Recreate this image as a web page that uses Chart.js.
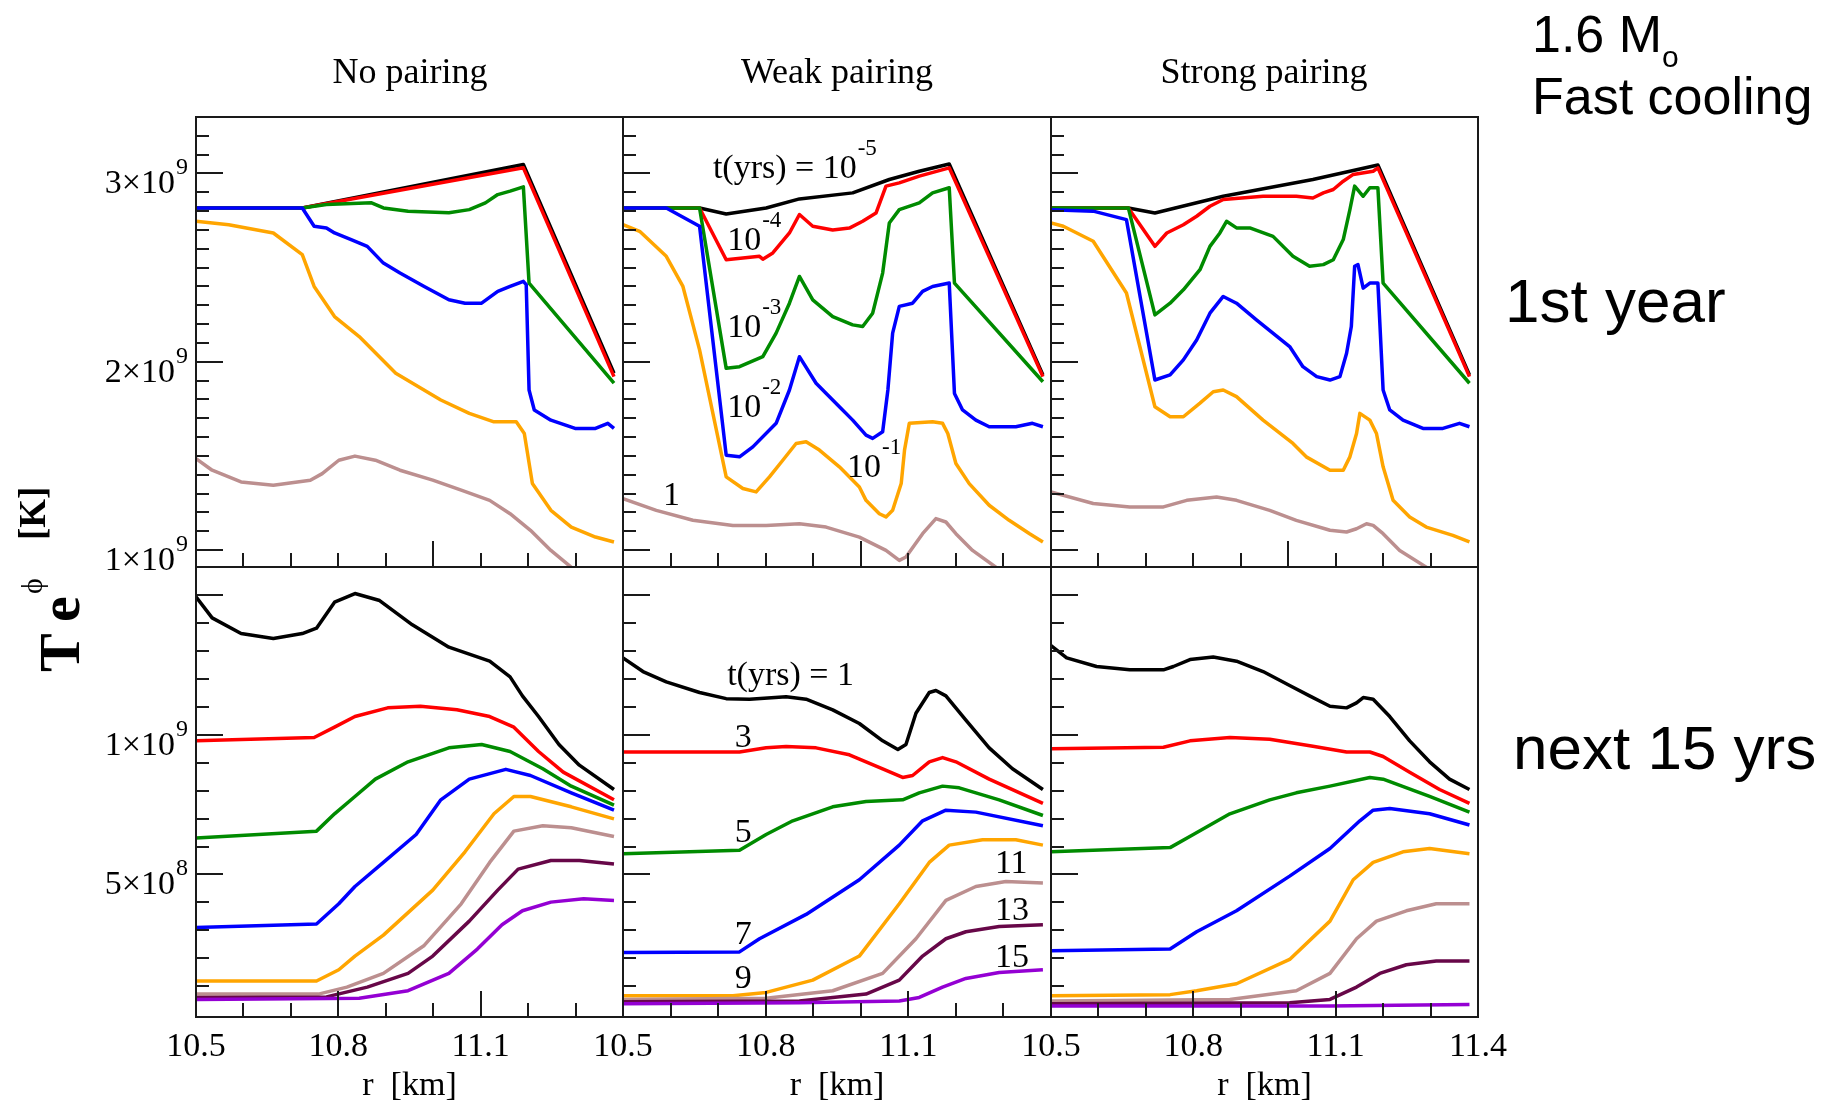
<!DOCTYPE html>
<html>
<head>
<meta charset="utf-8">
<title>Crust temperature profiles, 1.6 Msun fast cooling</title>
<script src="https://cdn.jsdelivr.net/npm/chart.js@4.4.1/dist/chart.umd.min.js"></script>
<style>
  html, body { margin: 0; padding: 0; background: #fff; }
  #page { position: relative; width: 1841px; height: 1103px; overflow: hidden; background: #fff; }
  #page canvas { position: absolute; left: 0; top: 0; }
  .serif { position: absolute; font-family: "Liberation Serif", "Times New Roman", serif; line-height: 1; white-space: nowrap; color: #000; }
  .sans { position: absolute; font-family: "Liberation Sans", Arial, sans-serif; line-height: 1; white-space: nowrap; color: #000; }
  .title { width: 400px; text-align: center; font-size: 36px; top: 53px; }
</style>
</head>
<body>
<div id="page">
  <div class="serif title" style="left:210px">No pairing</div>
  <div class="serif title" style="left:637px">Weak pairing</div>
  <div class="serif title" style="left:1064px">Strong pairing</div>

  <div class="sans" style="left:1532px; top:8px; font-size:52px">1.6 M<span style="font-size:30px; position:relative; top:15px">o</span></div>
  <div class="sans" style="left:1532px; top:70px; font-size:52px">Fast cooling</div>
  <div class="sans" style="left:1505px; top:270px; font-size:62px">1st year</div>
  <div class="sans" style="left:1513px; top:717px; font-size:62px">next 15 yrs</div>

  <div id="ytitle" style="position:absolute; left:80px; top:672px; width:0; height:0; transform:rotate(-90deg); transform-origin:0 0;">
    <span class="serif" style="left:0; top:-49px; font-size:58px; font-weight:bold">T</span>
    <span class="serif" style="left:50px; top:-49px; font-size:58px; font-weight:bold">e</span>
    <span class="serif" style="left:78px; top:-63px; font-size:30px">ϕ</span>
    <span class="serif" style="left:132px; top:-66px; font-size:37px; font-weight:bold">[K]</span>
  </div>
</div>

<script>
// Profiles T e^phi across the crust. Each curve keeps its own [r (km), T (10^9 K)] pairs.

// ---------- first year, t = 1e-5, 1e-4, 1e-3, 1e-2, 1e-1, 1 yr ----------
const noPairYr_t1e5 = [[10.5, 2.817], [10.724, 2.817], [11.19, 3.048], [11.381, 1.939]];
const noPairYr_t1e4 = [[10.5, 2.817], [10.724, 2.817], [11.19, 3.03], [11.381, 1.921]];
const noPairYr_t1e3 = [[10.5, 2.817], [10.724, 2.817], [10.775, 2.835], [10.87, 2.844], [10.895, 2.817], [10.947, 2.8],
  [11.033, 2.791], [11.076, 2.808], [11.11, 2.844], [11.136, 2.888], [11.162, 2.906], [11.19, 2.929], [11.202, 2.418], [11.381, 1.886]];
const noPairYr_t1e2 = [[10.5, 2.817], [10.724, 2.817], [10.749, 2.72], [10.775, 2.711], [10.792, 2.684], [10.827, 2.649],
  [10.861, 2.613], [10.895, 2.524], [10.93, 2.471], [10.981, 2.40], [11.033, 2.329], [11.067, 2.311], [11.102, 2.311],
  [11.136, 2.374], [11.162, 2.40], [11.19, 2.427], [11.196, 2.41], [11.202, 1.85], [11.213, 1.744], [11.248, 1.69],
  [11.299, 1.646], [11.342, 1.646], [11.368, 1.673], [11.381, 1.646]];
const noPairYr_t1e1 = [[10.5, 2.746], [10.569, 2.728], [10.663, 2.684], [10.724, 2.569], [10.749, 2.40], [10.792, 2.24],
  [10.844, 2.134], [10.921, 1.939], [11.016, 1.797], [11.076, 1.726], [11.128, 1.681], [11.175, 1.681], [11.192, 1.619],
  [11.209, 1.353], [11.248, 1.211], [11.291, 1.122], [11.342, 1.069], [11.381, 1.043]];
const noPairYr_t1 = [[10.5, 1.486], [10.534, 1.424], [10.595, 1.362], [10.663, 1.344], [10.741, 1.371], [10.766, 1.406],
  [10.801, 1.477], [10.835, 1.499], [10.878, 1.477], [10.93, 1.424], [10.999, 1.371], [11.059, 1.318], [11.119, 1.264],
  [11.162, 1.193], [11.205, 1.105], [11.248, 0.998], [11.299, 0.892], [11.33, 0.83]];

const weakYr_t1e5 = [[10.5, 2.817], [10.661, 2.817], [10.717, 2.785], [10.801, 2.817], [10.871, 2.865], [10.983, 2.897],
  [11.06, 2.968], [11.123, 3.012], [11.186, 3.05], [11.383, 1.93]];
const weakYr_t1e4 = [[10.5, 2.817], [10.661, 2.817], [10.717, 2.542], [10.787, 2.56], [10.794, 2.545], [10.815, 2.578],
  [10.85, 2.684], [10.871, 2.782], [10.899, 2.72], [10.941, 2.70], [10.976, 2.71], [11.004, 2.746], [11.032, 2.79],
  [11.053, 2.933], [11.081, 2.95], [11.123, 2.986], [11.186, 3.03], [11.383, 1.921]];
const weakYr_t1e3 = [[10.5, 2.817], [10.661, 2.817], [10.717, 1.965], [10.745, 1.974], [10.794, 2.027], [10.822, 2.152],
  [10.85, 2.311], [10.871, 2.453], [10.899, 2.329], [10.941, 2.24], [10.983, 2.196], [11.004, 2.187], [11.025, 2.258],
  [11.046, 2.471], [11.06, 2.737], [11.081, 2.808], [11.123, 2.844], [11.151, 2.897], [11.186, 2.924], [11.197, 2.418],
  [11.383, 1.894]];
const weakYr_t1e2 = [[10.5, 2.817], [10.591, 2.817], [10.661, 2.72], [10.717, 1.504], [10.745, 1.495], [10.773, 1.548],
  [10.822, 1.673], [10.85, 1.85], [10.871, 2.027], [10.906, 1.886], [10.955, 1.761], [10.983, 1.69], [11.011, 1.61],
  [11.025, 1.593], [11.046, 1.628], [11.057, 1.85], [11.067, 2.152], [11.081, 2.294], [11.109, 2.311], [11.13, 2.374],
  [11.151, 2.40], [11.186, 2.418], [11.197, 1.832], [11.214, 1.744], [11.242, 1.69], [11.27, 1.655], [11.326, 1.655],
  [11.361, 1.673], [11.383, 1.655]];
const weakYr_t1e1 = [[10.5, 2.728], [10.535, 2.693], [10.591, 2.56], [10.626, 2.40], [10.661, 2.063], [10.717, 1.389],
  [10.752, 1.327], [10.78, 1.309], [10.808, 1.389], [10.836, 1.477], [10.864, 1.566], [10.885, 1.575], [10.913, 1.531],
  [10.955, 1.442], [10.997, 1.335], [11.011, 1.264], [11.039, 1.193], [11.053, 1.176], [11.067, 1.211], [11.085, 1.353],
  [11.092, 1.531], [11.102, 1.673], [11.151, 1.681], [11.172, 1.673], [11.183, 1.619], [11.2, 1.46], [11.228, 1.353],
  [11.27, 1.238], [11.312, 1.158], [11.355, 1.087], [11.383, 1.043]];
const weakYr_t1 = [[10.5, 1.273], [10.57, 1.211], [10.647, 1.158], [10.731, 1.131], [10.801, 1.131], [10.871, 1.14],
  [10.927, 1.122], [10.997, 1.069], [11.053, 0.998], [11.081, 0.945], [11.095, 0.963], [11.13, 1.087], [11.158, 1.167],
  [11.179, 1.149], [11.2, 1.087], [11.235, 0.998], [11.284, 0.909], [11.312, 0.838]];

const strongYr_t1e5 = [[10.5, 2.817], [10.663, 2.817], [10.719, 2.79], [10.863, 2.879], [11.052, 2.968], [11.189, 3.045],
  [11.382, 1.93]];
const strongYr_t1e4 = [[10.5, 2.817], [10.663, 2.817], [10.719, 2.613], [10.744, 2.684], [10.779, 2.728], [10.807, 2.773],
  [10.835, 2.826], [10.863, 2.862], [10.947, 2.879], [11.017, 2.879], [11.052, 2.87], [11.074, 2.897], [11.095, 2.915],
  [11.116, 2.959], [11.137, 2.995], [11.179, 3.012], [11.189, 3.03], [11.382, 1.921]];
const strongYr_t1e3 = [[10.5, 2.817], [10.663, 2.817], [10.719, 2.249], [10.751, 2.311], [10.779, 2.382], [10.814, 2.489],
  [10.835, 2.613], [10.856, 2.684], [10.87, 2.746], [10.891, 2.711], [10.919, 2.711], [10.968, 2.666], [11.01, 2.56],
  [11.045, 2.507], [11.074, 2.516], [11.095, 2.542], [11.116, 2.649], [11.13, 2.808], [11.14, 2.933], [11.158, 2.879],
  [11.172, 2.924], [11.189, 2.924], [11.2, 2.418], [11.382, 1.886]];
const strongYr_t1e2 = [[10.5, 2.808], [10.589, 2.8], [10.659, 2.755], [10.719, 1.903], [10.751, 1.93], [10.779, 2.01],
  [10.807, 2.116], [10.835, 2.258], [10.863, 2.347], [10.891, 2.311], [10.933, 2.223], [11.003, 2.081], [11.031, 1.974],
  [11.06, 1.921], [11.088, 1.903], [11.109, 1.921], [11.123, 2.045], [11.133, 2.187], [11.14, 2.507], [11.147, 2.516],
  [11.158, 2.391], [11.172, 2.418], [11.189, 2.418], [11.2, 1.85], [11.214, 1.744], [11.242, 1.69], [11.284, 1.646],
  [11.326, 1.646], [11.361, 1.673], [11.382, 1.655]];
const strongYr_t1e1 = [[10.5, 2.737], [10.526, 2.72], [10.589, 2.64], [10.659, 2.365], [10.719, 1.761], [10.751, 1.708],
  [10.779, 1.708], [10.814, 1.78], [10.842, 1.841], [10.863, 1.85], [10.891, 1.815], [10.947, 1.69], [11.01, 1.566],
  [11.038, 1.495], [11.088, 1.424], [11.116, 1.424], [11.13, 1.495], [11.144, 1.619], [11.151, 1.726], [11.172, 1.69],
  [11.186, 1.619], [11.2, 1.442], [11.221, 1.264], [11.256, 1.176], [11.291, 1.122], [11.347, 1.078], [11.382, 1.043]];
const strongYr_t1 = [[10.5, 1.309], [10.589, 1.247], [10.666, 1.229], [10.737, 1.229], [10.786, 1.264], [10.849, 1.282],
  [10.891, 1.264], [10.961, 1.211], [11.017, 1.158], [11.088, 1.105], [11.123, 1.096], [11.144, 1.113], [11.165, 1.14],
  [11.179, 1.131], [11.2, 1.087], [11.235, 0.998], [11.291, 0.909], [11.32, 0.86]];

// ---------- next 15 years, t = 1, 3, 5, 7, 9, 11, 13, 15 yr ----------
const noPairLate_y1 = [[10.5, 1.493], [10.534, 1.418], [10.595, 1.362], [10.663, 1.344], [10.724, 1.362], [10.754, 1.381],
  [10.792, 1.474], [10.835, 1.505], [10.887, 1.48], [10.956, 1.393], [11.033, 1.313], [11.119, 1.263], [11.162, 1.207],
  [11.188, 1.139], [11.222, 1.065], [11.265, 0.965], [11.308, 0.891], [11.381, 0.804]];
const noPairLate_y3 = [[10.5, 0.978], [10.749, 0.99], [10.792, 1.027], [10.835, 1.065], [10.904, 1.096], [10.973, 1.102],
  [11.05, 1.089], [11.119, 1.065], [11.17, 1.027], [11.222, 0.94], [11.274, 0.866], [11.381, 0.767]];
const noPairLate_y5 = [[10.5, 0.63], [10.754, 0.655], [10.792, 0.717], [10.835, 0.779], [10.878, 0.841], [10.947, 0.903],
  [11.033, 0.953], [11.102, 0.965], [11.162, 0.94], [11.231, 0.878], [11.291, 0.816], [11.381, 0.748]];
const noPairLate_y7 = [[10.5, 0.31], [10.754, 0.323], [10.801, 0.395], [10.835, 0.457], [10.895, 0.543], [10.964, 0.643],
  [11.016, 0.767], [11.076, 0.841], [11.153, 0.876], [11.205, 0.854], [11.291, 0.792], [11.381, 0.73]];
const noPairLate_y9 = [[10.5, 0.119], [10.754, 0.119], [10.801, 0.159], [10.835, 0.208], [10.895, 0.283], [10.999, 0.444],
  [11.067, 0.581], [11.128, 0.717], [11.17, 0.779], [11.205, 0.779], [11.291, 0.742], [11.381, 0.699]];
const noPairLate_y11 = [[10.5, 0.072], [10.758, 0.072], [10.818, 0.097], [10.895, 0.146], [10.981, 0.246], [11.059, 0.395],
  [11.119, 0.543], [11.17, 0.655], [11.231, 0.674], [11.291, 0.667], [11.381, 0.636]];
const noPairLate_y13 = [[10.5, 0.06], [10.775, 0.062], [10.861, 0.097], [10.947, 0.146], [10.999, 0.208], [11.076, 0.333],
  [11.136, 0.444], [11.179, 0.519], [11.248, 0.55], [11.308, 0.55], [11.381, 0.537]];
const noPairLate_y15 = [[10.5, 0.053], [10.844, 0.057], [10.947, 0.084], [11.033, 0.146], [11.093, 0.233], [11.145, 0.32],
  [11.188, 0.37], [11.248, 0.401], [11.317, 0.413], [11.381, 0.407]];

const weakLate_y1 = [[10.5, 1.275], [10.542, 1.226], [10.591, 1.189], [10.661, 1.151], [10.717, 1.129], [10.766, 1.127],
  [10.843, 1.136], [10.885, 1.127], [10.941, 1.089], [10.997, 1.04], [11.046, 0.978], [11.078, 0.947], [11.095, 0.965],
  [11.116, 1.077], [11.144, 1.151], [11.158, 1.158], [11.179, 1.139], [11.221, 1.052], [11.27, 0.953], [11.319, 0.878],
  [11.383, 0.804]];
const weakLate_y3 = [[10.5, 0.938], [10.745, 0.938], [10.801, 0.953], [10.843, 0.958], [10.906, 0.953], [10.976, 0.928],
  [11.046, 0.878], [11.088, 0.847], [11.109, 0.854], [11.144, 0.903], [11.172, 0.918], [11.2, 0.903], [11.27, 0.841],
  [11.383, 0.754]];
const weakLate_y5 = [[10.5, 0.574], [10.745, 0.587], [10.801, 0.643], [10.857, 0.692], [10.941, 0.742], [11.011, 0.761],
  [11.088, 0.767], [11.123, 0.792], [11.172, 0.816], [11.207, 0.81], [11.291, 0.767], [11.383, 0.711]];
const weakLate_y7 = [[10.5, 0.221], [10.745, 0.223], [10.787, 0.27], [10.885, 0.357], [10.997, 0.481], [11.081, 0.605],
  [11.13, 0.692], [11.179, 0.73], [11.242, 0.723], [11.383, 0.674]];
const weakLate_y9 = [[10.5, 0.066], [10.731, 0.066], [10.801, 0.078], [10.899, 0.122], [10.997, 0.208], [11.081, 0.395],
  [11.144, 0.543], [11.186, 0.605], [11.256, 0.624], [11.326, 0.624], [11.383, 0.605]];
const weakLate_y11 = [[10.5, 0.053], [10.801, 0.057], [10.941, 0.084], [11.046, 0.146], [11.116, 0.27], [11.179, 0.407],
  [11.242, 0.457], [11.305, 0.475], [11.383, 0.469]];
const weakLate_y13 = [[10.5, 0.045], [10.871, 0.047], [11.011, 0.072], [11.081, 0.122], [11.13, 0.208], [11.179, 0.27],
  [11.221, 0.295], [11.291, 0.314], [11.383, 0.32]];
const weakLate_y15 = [[10.5, 0.037], [10.871, 0.041], [11.081, 0.047], [11.123, 0.06], [11.172, 0.097], [11.221, 0.128],
  [11.291, 0.149], [11.383, 0.159]];

const strongLate_y1 = [[10.5, 1.319], [10.533, 1.275], [10.596, 1.244], [10.666, 1.232], [10.737, 1.232], [10.758, 1.244],
  [10.793, 1.269], [10.842, 1.278], [10.891, 1.263], [10.947, 1.226], [11.003, 1.176], [11.045, 1.139], [11.088, 1.102],
  [11.123, 1.096], [11.144, 1.114], [11.158, 1.133], [11.179, 1.127], [11.214, 1.065], [11.256, 0.978], [11.298, 0.903],
  [11.34, 0.841], [11.382, 0.804]];
const strongLate_y3 = [[10.5, 0.95], [10.737, 0.955], [10.793, 0.978], [10.877, 0.99], [10.961, 0.984], [11.052, 0.959],
  [11.123, 0.938], [11.172, 0.938], [11.2, 0.922], [11.256, 0.866], [11.319, 0.804], [11.382, 0.754]];
const strongLate_y5 = [[10.5, 0.581], [10.751, 0.596], [10.8, 0.643], [10.877, 0.717], [10.961, 0.767], [11.017, 0.792],
  [11.088, 0.816], [11.172, 0.847], [11.2, 0.841], [11.298, 0.779], [11.382, 0.723]];
const strongLate_y7 = [[10.5, 0.227], [10.751, 0.233], [10.807, 0.295], [10.891, 0.37], [11.003, 0.494], [11.088, 0.593],
  [11.151, 0.692], [11.179, 0.73], [11.214, 0.736], [11.298, 0.717], [11.382, 0.677]];
const strongLate_y9 = [[10.5, 0.066], [10.751, 0.07], [10.807, 0.084], [10.891, 0.109], [11.003, 0.196], [11.088, 0.333],
  [11.137, 0.481], [11.179, 0.543], [11.242, 0.581], [11.298, 0.593], [11.382, 0.574]];
const strongLate_y11 = [[10.5, 0.047], [10.877, 0.053], [11.017, 0.084], [11.088, 0.146], [11.144, 0.27], [11.186, 0.333],
  [11.249, 0.37], [11.312, 0.395], [11.382, 0.395]];
const strongLate_y13 = [[10.5, 0.037], [11.003, 0.041], [11.088, 0.053], [11.144, 0.097], [11.193, 0.146], [11.249, 0.177],
  [11.312, 0.19], [11.382, 0.19]];
const strongLate_y15 = [[10.5, 0.029], [11.088, 0.029], [11.228, 0.032], [11.382, 0.035]];

// axis ranges and tick labels (T in units of 1e9 K)
const rRange = [10.5, 11.4];
const rTickLabels = [10.5, 10.8, 11.1, 11.4];
const yearRange = [0.91, 3.3];
const yearTickLabels = [1, 2, 3];
const lateRange = [-0.01, 1.6];
const lateTickLabels = [0.5, 1];

// curve colours, oldest profile last
const yearColors = ['#000000', '#ff0000', '#008b00', '#0000ff', '#ffa500', '#bc8f8f'];
const lateColors = ['#000000', '#ff0000', '#008b00', '#0000ff', '#ffa500', '#bc8f8f', '#670748', '#9400d3'];

// in-panel time labels: [text, exponent, r, T at baseline]
const weakYearNotes = [
  ['t(yrs) = 10', '-5', 10.689, 2.976],
  ['10', '-4', 10.719, 2.594],
  ['10', '-3', 10.719, 2.132],
  ['10', '-2', 10.719, 1.707],
  ['10', '-1', 10.971, 1.388],
  ['1', '', 10.584, 1.239]
];
const weakLateNotes = [
  ['t(yrs) = 1', '', 10.719, 1.178],
  ['3', '', 10.735, 0.956],
  ['5', '', 10.735, 0.616],
  ['7', '', 10.735, 0.251],
  ['9', '', 10.735, 0.094],
  ['11', '', 11.282, 0.505],
  ['13', '', 11.282, 0.337],
  ['15', '', 11.282, 0.169]
];

const W = 1841, H = 1103;
const colEdges = [196, 623, 1051, 1478];
const rowEdges = [117, 567, 1017];
const SERIF = '"Liberation Serif", "Times New Roman", serif';
const INK = '#1a1a1a';

const panels = [
  { row: 0, col: 0, range: yearRange, labels: yearTickLabels, colors: yearColors, notes: [],
    series: [noPairYr_t1e5, noPairYr_t1e4, noPairYr_t1e3, noPairYr_t1e2, noPairYr_t1e1, noPairYr_t1] },
  { row: 0, col: 1, range: yearRange, labels: yearTickLabels, colors: yearColors, notes: weakYearNotes,
    series: [weakYr_t1e5, weakYr_t1e4, weakYr_t1e3, weakYr_t1e2, weakYr_t1e1, weakYr_t1] },
  { row: 0, col: 2, range: yearRange, labels: yearTickLabels, colors: yearColors, notes: [],
    series: [strongYr_t1e5, strongYr_t1e4, strongYr_t1e3, strongYr_t1e2, strongYr_t1e1, strongYr_t1] },
  { row: 1, col: 0, range: lateRange, labels: lateTickLabels, colors: lateColors, notes: [],
    series: [noPairLate_y1, noPairLate_y3, noPairLate_y5, noPairLate_y7, noPairLate_y9, noPairLate_y11, noPairLate_y13, noPairLate_y15] },
  { row: 1, col: 1, range: lateRange, labels: lateTickLabels, colors: lateColors, notes: weakLateNotes,
    series: [weakLate_y1, weakLate_y3, weakLate_y5, weakLate_y7, weakLate_y9, weakLate_y11, weakLate_y13, weakLate_y15] },
  { row: 1, col: 2, range: lateRange, labels: lateTickLabels, colors: lateColors, notes: [],
    series: [strongLate_y1, strongLate_y3, strongLate_y5, strongLate_y7, strongLate_y9, strongLate_y11, strongLate_y13, strongLate_y15] }
];

// text with an optional raised exponent, left aligned at (x, y)
function drawRaised(ctx, text, exp, x, y) {
  ctx.textAlign = 'left';
  ctx.font = '34px ' + SERIF;
  ctx.fillText(text, x, y);
  if (exp) {
    const w = ctx.measureText(text).width;
    ctx.font = '23px ' + SERIF;
    ctx.fillText(exp, x + w + 1, y - 23);
  }
}

// frame, inward ticks, tick labels and notes for one panel
function framePlugin(p) {
  return {
    id: 'frame' + p.row + p.col,
    afterDatasetsDraw(chart) {
      const { ctx, chartArea: a, scales: { x, y } } = chart;
      ctx.save();
      ctx.strokeStyle = INK;
      ctx.lineWidth = 2;

      // left edge: minor every 1e8 K, long marks at the 0.5e9 / 1e9 steps
      ctx.beginPath();
      for (let i = 1; i <= 33; i++) {
        const v = i / 10;
        if (v <= y.min || v >= y.max) continue;
        const major = p.row === 0 ? i % 10 === 0 : i % 5 === 0;
        const py = Math.round(y.getPixelForValue(v));
        ctx.moveTo(a.left, py);
        ctx.lineTo(a.left + (major ? 27 : 13), py);
      }
      // bottom edge: every 0.1 km
      for (let k = 1; k <= 8; k++) {
        const v = (105 + k) / 10;
        const major = p.row === 0 ? k === 5 : (k === 3 || k === 6);
        const px = Math.round(x.getPixelForValue(v));
        ctx.moveTo(px, a.bottom);
        ctx.lineTo(px, a.bottom - (major ? 26 : 14));
      }
      ctx.stroke();
      ctx.strokeRect(a.left, a.top, a.right - a.left, a.bottom - a.top);

      ctx.fillStyle = '#000';
      ctx.textBaseline = 'alphabetic';

      // T labels like 3x10^9 on the left column
      if (p.col === 0) {
        p.labels.forEach(v => {
          const py = y.getPixelForValue(v);
          const exp = v >= 1 ? 9 : 8;
          const mant = Math.round(v / Math.pow(10, exp - 9));
          const right = a.left - 8;
          ctx.textAlign = 'right';
          ctx.font = '24px ' + SERIF;
          ctx.fillText(String(exp), right, py + 1);
          const ew = ctx.measureText(String(exp)).width;
          ctx.font = '34px ' + SERIF;
          ctx.fillText(mant + '\u00d710', right - ew - 1, py + 20);
        });
      }

      // r labels under the bottom row
      if (p.row === 1) {
        ctx.textAlign = 'center';
        ctx.font = '34px ' + SERIF;
        rTickLabels.forEach(v => {
          if (v === 11.4 && p.col !== 2) return;
          ctx.fillText(v.toFixed(1), x.getPixelForValue(v), 1056);
        });
        ctx.fillText('r  [km]', (a.left + a.right) / 2, 1095);
      }

      p.notes.forEach(([text, exp, r, t]) => {
        drawRaised(ctx, text, exp, x.getPixelForValue(r), y.getPixelForValue(t));
      });
      ctx.restore();
    }
  };
}

const page = document.getElementById('page');
panels.forEach(p => {
  const canvas = document.createElement('canvas');
  canvas.width = W;
  canvas.height = H;
  page.insertBefore(canvas, page.firstChild);

  const datasets = p.series.map((pts, i) => ({
    data: pts.map(([r, t]) => ({ x: r, y: t })),
    borderColor: p.colors[i],
    backgroundColor: p.colors[i],
    borderWidth: 3.5,
    showLine: true,
    pointRadius: 0,
    tension: 0,
    borderJoinStyle: 'round',
    order: -i
  }));

  new Chart(canvas.getContext('2d'), {
    type: 'scatter',
    data: { datasets },
    options: {
      responsive: false,
      animation: false,
      devicePixelRatio: 1,
      events: [],
      layout: {
        padding: {
          left: colEdges[p.col],
          right: W - colEdges[p.col + 1],
          top: rowEdges[p.row],
          bottom: H - rowEdges[p.row + 1]
        }
      },
      scales: {
        x: { type: 'linear', min: rRange[0], max: rRange[1], display: false },
        y: { type: 'linear', min: p.range[0], max: p.range[1], display: false }
      },
      plugins: { legend: { display: false }, tooltip: { enabled: false } }
    },
    plugins: [framePlugin(p)]
  });
});
</script>
</body>
</html>
